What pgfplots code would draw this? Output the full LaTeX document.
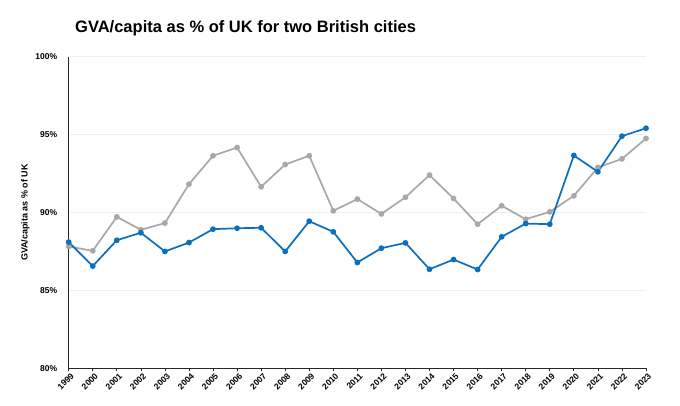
\documentclass[border=0pt]{standalone}
\usepackage{pgfplots}
\pgfplotsset{compat=1.18}
\usepackage{fontspec}
\setmainfont{Liberation Sans}
\definecolor{cblue}{HTML}{0B6FBF}
\definecolor{cgray}{HTML}{A8A8A8}
\definecolor{cgrid}{HTML}{EFEFEF}
\begin{document}
\begin{tikzpicture}[x=1pt,y=1pt]
\useasboundingbox (0,0) rectangle (680,405);
\node[anchor=base west,font=\bfseries\fontsize{16.5}{18}\selectfont,inner sep=0] at (75,372) {GVA/capita as \% of UK for two British cities};
\begin{axis}[
  at={(68.7pt,36.7pt)}, anchor=south west,
  scale only axis, width=577.3pt, height=311.6pt,
  xmin=1999, xmax=2023, ymin=80, ymax=100,
  axis x line=bottom, axis y line=left,
  axis line style={-, black!85, line width=0.9pt},
  xtick={1999,...,2023},
  ytick={80,85,90,95,100},
  yticklabels={80\%,85\%,90\%,95\%,100\%},
  xticklabel={\pgfmathprintnumber[fixed,set thousands separator={}]{\tick}},
  x tick label style={font=\bfseries\fontsize{8.5}{9}\selectfont, rotate=45, anchor=east, inner sep=0.5pt, xshift=1pt, yshift=-5pt},
  y tick label style={font=\bfseries\fontsize{8.5}{9}\selectfont, xshift=-5pt},
  /pgf/number format/assume math mode=true,
  xtick style={black!85, line width=0.6pt},
  major tick length=3pt,
  tick align=outside,
  ytick style={draw=none},
  ymajorgrids, grid style={cgrid, line width=0.7pt},
  ylabel={GVA/capita as \% of UK},
  every axis y label/.style={at={(axis description cs:-0.075,0.5)}, rotate=90, anchor=center, font=\bfseries\fontsize{9}{10}\selectfont},
  clip=false,
]
\addplot[cgray, line width=1.7pt, mark=*, mark size=2pt, mark options={fill=cgray, draw=cgray}] coordinates {
(1999,87.82) (2000,87.54) (2001,89.72) (2002,88.89) (2003,89.32) (2004,91.82)
(2005,93.64) (2006,94.17) (2007,91.65) (2008,93.08) (2009,93.64) (2010,90.11)
(2011,90.86) (2012,89.91) (2013,90.98) (2014,92.40) (2015,90.90) (2016,89.25)
(2017,90.43) (2018,89.57) (2019,90.04) (2020,91.07) (2021,92.89) (2022,93.44)
(2023,94.75)};
\addplot[cblue, line width=1.7pt, mark=*, mark size=2pt, mark options={fill=cblue, draw=cblue}] coordinates {
(1999,88.10) (2000,86.56) (2001,88.22) (2002,88.70) (2003,87.50) (2004,88.07)
(2005,88.93) (2006,88.99) (2007,89.02) (2008,87.50) (2009,89.44) (2010,88.76)
(2011,86.79) (2012,87.71) (2013,88.05) (2014,86.36) (2015,86.98) (2016,86.34)
(2017,88.44) (2018,89.29) (2019,89.25) (2020,93.66) (2021,92.61) (2022,94.90)
(2023,95.41)};
\end{axis}
\end{tikzpicture}
\end{document}
